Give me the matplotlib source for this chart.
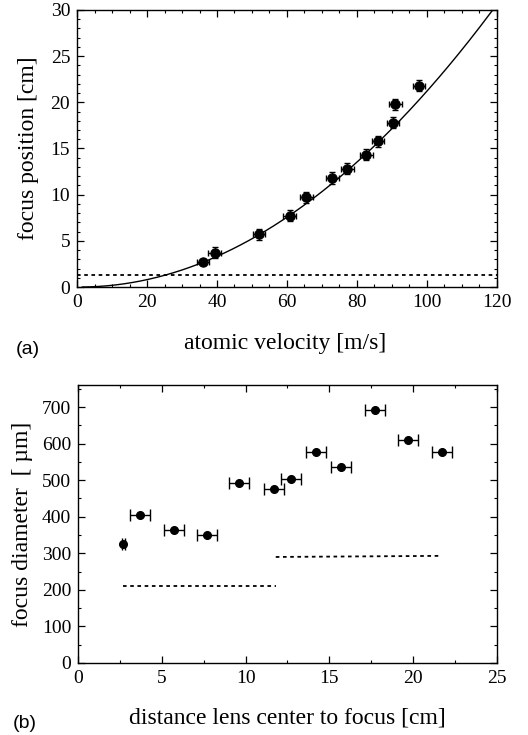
import matplotlib
matplotlib.use("Agg")
import matplotlib.pyplot as plt
import numpy as np
from matplotlib.ticker import MultipleLocator

# ---- panel (a) data ----
vel = [36.0, 39.3, 52.0, 60.8, 65.5, 73.0, 77.3, 82.7, 86.0, 90.3, 91.0, 97.8]
focus_pos = [2.7, 3.7, 5.7, 7.7, 9.7, 11.8, 12.8, 14.3, 15.8, 17.8, 19.8, 21.8]
vel_err = [1.8, 1.8, 1.8, 1.8, 1.8, 1.8, 1.8, 1.8, 1.8, 1.8, 1.8, 1.8]
pos_err = [0.3, 0.6, 0.6, 0.6, 0.6, 0.6, 0.6, 0.6, 0.6, 0.6, 0.6, 0.6]
fit_coeffs = [0.00215, -0.003, 0.0]   # quadratic fit y = a v^2 + b v + c
fit_vrange = [1.5, 120.0]
level_a = 1.3

# ---- panel (b) data ----
dist = [2.7, 3.7, 5.7, 7.7, 9.6, 11.7, 12.7, 14.2, 15.7, 17.7, 19.7, 21.7]
diam = [325, 405, 365, 350, 493, 476, 502, 576, 536, 693, 610, 578]
dist_err = [0.08, 0.6, 0.6, 0.6, 0.6, 0.6, 0.6, 0.6, 0.6, 0.6, 0.6, 0.6]
level_b1_x = [2.7, 11.8]
level_b1_y = [210, 210]
level_b2_x = [11.8, 21.7]
level_b2_y = [290, 293]

serif = ["Liberation Serif", "DejaVu Serif"]
sans = ["Liberation Sans", "DejaVu Sans"]

fig = plt.figure(figsize=(5.28, 7.35), dpi=100)

def style(ax):
    ax.tick_params(which="both", direction="in", top=True, right=True)
    ax.tick_params(which="major", length=5, width=0.9, pad=5)
    ax.tick_params(which="minor", length=2.5, width=0.8)
    for s in ax.spines.values():
        s.set_linewidth(1.0)
    for lab in ax.get_xticklabels() + ax.get_yticklabels():
        lab.set_fontfamily(serif)
        lab.set_fontsize(14)

# ---- (a) ----
ax1 = fig.add_axes([0.146, 0.6095, 0.795, 0.377])
vv = np.linspace(fit_vrange[0], fit_vrange[1], 300)
ax1.plot(vv, np.polyval(fit_coeffs, vv), color="black", lw=1.0)
ax1.axhline(level_a, color="black", lw=1.3, ls=(0, (2, 2)))
ax1.errorbar(vel, focus_pos, xerr=vel_err, yerr=pos_err, fmt="o", color="black",
             ms=6.5, capsize=2, elinewidth=1.0, capthick=1.0)
ax1.set_xlim(0, 120)
ax1.set_ylim(0, 30)
ax1.xaxis.set_major_locator(MultipleLocator(20))
ax1.xaxis.set_minor_locator(MultipleLocator(5))
ax1.yaxis.set_major_locator(MultipleLocator(5))
ax1.yaxis.set_minor_locator(MultipleLocator(1))
style(ax1)
ax1.set_ylabel("focus position [cm]", fontfamily=serif, fontsize=17, labelpad=8)
fig.text(0.54, 1 - 343 / 735, "atomic velocity [m/s]", fontfamily=serif, fontsize=17,
         ha="center", va="center")
fig.text(0.03, 1 - 349 / 735, "(a)", fontfamily=sans, fontsize=14, ha="left", va="center")

# ---- (b) ----
ax2 = fig.add_axes([0.148, 0.098, 0.793, 0.378])
ax2.plot(level_b1_x, level_b1_y, color="black", lw=1.3, ls=(0, (2, 2)))
ax2.plot(level_b2_x, level_b2_y, color="black", lw=1.3, ls=(0, (2, 2)))
ax2.errorbar(dist, diam, xerr=dist_err, fmt="o", color="black",
             ms=5.5, capsize=4, elinewidth=1.0, capthick=1.0)
ax2.set_xlim(0, 25)
ax2.set_ylim(0, 760)
ax2.xaxis.set_major_locator(MultipleLocator(5))
ax2.xaxis.set_minor_locator(MultipleLocator(2.5))
ax2.yaxis.set_major_locator(MultipleLocator(100))
ax2.yaxis.set_minor_locator(MultipleLocator(50))
style(ax2)
ax2.set_ylabel("focus diameter  [ µm]", fontfamily=serif, fontsize=17, labelpad=6)
fig.text(0.545, 1 - 718 / 735, "distance lens center to focus [cm]", fontfamily=serif,
         fontsize=17, ha="center", va="center")
fig.text(0.025, 1 - 723 / 735, "(b)", fontfamily=sans, fontsize=14, ha="left", va="center")

fig.savefig("out.png", dpi=100)
